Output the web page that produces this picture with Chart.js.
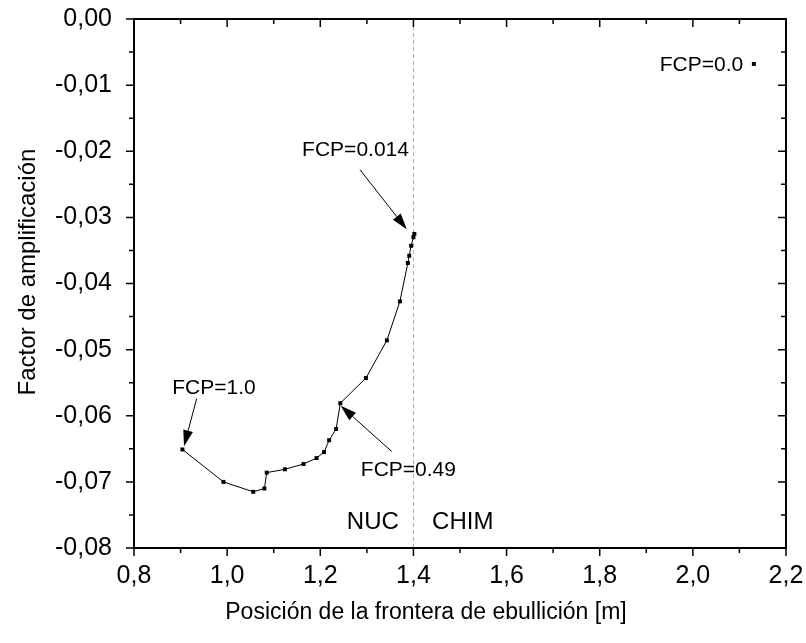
<!DOCTYPE html>
<html>
<head>
<meta charset="utf-8">
<script src="https://cdn.jsdelivr.net/npm/chart.js@4/dist/chart.umd.min.js"></script>
<style>
  html, body { margin: 0; padding: 0; background: #fff; }
  #wrap { width: 806px; height: 643px; }
</style>
</head>
<body>
<div id="wrap"><canvas id="c" width="806" height="643"></canvas></div>
<script>
// ---- Data ----
const boilX = [0.904, 0.992, 1.056, 1.080, 1.085, 1.124, 1.164, 1.192, 1.208, 1.219, 1.234, 1.243, 1.298, 1.343, 1.371, 1.388, 1.391, 1.395, 1.400, 1.402];
const ampY  = [-0.0651, -0.0700, -0.0715, -0.0710, -0.0686, -0.0681, -0.0673, -0.0664, -0.0655, -0.0637, -0.0620, -0.0581, -0.0543, -0.0486, -0.0427, -0.0369, -0.0358, -0.0343, -0.0330, -0.0325];
const fcp0X = [2.131];
const fcp0Y = [-0.0068];
const boundaryX = 1.4;

const noteTexts  = ["FCP=0.0", "FCP=0.014", "FCP=1.0", "FCP=0.49", "NUC", "CHIM"];
const noteX      = [2.108, 1.161, 0.882, 1.287, 1.257, 1.440];
const noteY      = [-0.0070, -0.0198, -0.0558, -0.0682, -0.0762, -0.0762];
const noteAlign  = ["right", "left", "left", "left", "left", "left"];

const arrowTailX = [1.2853, 1.3534, 0.9346];
const arrowTailY = [-0.0228, -0.0654, -0.0574];
const arrowHeadX = [1.3856, 1.2438, 0.9074];
const arrowHeadY = [-0.0318, -0.0585, -0.0646];

const xTitle = "Posición de la frontera de ebullición [m]";
const yTitle = "Factor de amplificación";

const FONT = "'Liberation Sans', Arial, sans-serif";

const overlay = {
  id: 'overlay',
  beforeDatasetsDraw(chart) {
    const ctx = chart.ctx, xs = chart.scales.x, ys = chart.scales.y, a = chart.chartArea;
    ctx.save();
    ctx.strokeStyle = '#b0b0b0';
    ctx.lineWidth = 1;
    ctx.setLineDash([4, 3]);
    const bx = Math.round(xs.getPixelForValue(boundaryX)) + 0.5;
    ctx.beginPath(); ctx.moveTo(bx, a.top); ctx.lineTo(bx, a.bottom); ctx.stroke();
    ctx.restore();
  },
  afterDraw(chart) {
    const ctx = chart.ctx, xs = chart.scales.x, ys = chart.scales.y, a = chart.chartArea;
    ctx.save();
    ctx.strokeStyle = '#000';
    ctx.lineWidth = 2;
    ctx.strokeRect(a.left, a.top, a.right - a.left, a.bottom - a.top);
    ctx.lineWidth = 1.5;
    ctx.beginPath();
    for (let k = 0; k <= 14; k++) {
      const v = 0.8 + k * 0.1;
      const major = k % 2 === 0;
      const px = xs.getPixelForValue(v);
      const len = major ? 8 : 5;
      ctx.moveTo(px, a.bottom); ctx.lineTo(px, a.bottom + len);
      ctx.moveTo(px, a.top); ctx.lineTo(px, a.top + len);
    }
    for (let k = 0; k <= 16; k++) {
      const v = -k * 0.005;
      const major = k % 2 === 0;
      const py = ys.getPixelForValue(v);
      const len = major ? 8 : 5;
      ctx.moveTo(a.left, py); ctx.lineTo(a.left - len, py);
      ctx.moveTo(a.right, py); ctx.lineTo(a.right - len, py);
    }
    ctx.stroke();

    ctx.fillStyle = '#000';
    ctx.textBaseline = 'middle';
    for (let i = 0; i < noteTexts.length; i++) {
      const big = (noteTexts[i] === 'NUC' || noteTexts[i] === 'CHIM');
      ctx.font = (big ? 24 : 21) + 'px ' + FONT;
      ctx.textAlign = noteAlign[i];
      ctx.fillText(noteTexts[i], xs.getPixelForValue(noteX[i]), ys.getPixelForValue(noteY[i]));
    }
    ctx.lineWidth = 1;
    for (let i = 0; i < arrowTailX.length; i++) {
      const x1 = xs.getPixelForValue(arrowTailX[i]), y1 = ys.getPixelForValue(arrowTailY[i]);
      const x2 = xs.getPixelForValue(arrowHeadX[i]), y2 = ys.getPixelForValue(arrowHeadY[i]);
      const ang = Math.atan2(y2 - y1, x2 - x1);
      const hl = 16, hw = 5;
      const bxp = x2 - hl * Math.cos(ang), byp = y2 - hl * Math.sin(ang);
      ctx.beginPath(); ctx.moveTo(x1, y1); ctx.lineTo(bxp, byp); ctx.stroke();
      ctx.beginPath();
      ctx.moveTo(x2, y2);
      ctx.lineTo(bxp + hw * Math.sin(ang), byp - hw * Math.cos(ang));
      ctx.lineTo(bxp - hw * Math.sin(ang), byp + hw * Math.cos(ang));
      ctx.closePath(); ctx.fill();
    }
    ctx.textAlign = 'center';
    ctx.textBaseline = 'middle';
    ctx.font = '23px ' + FONT;
    ctx.fillText(xTitle, 426, 613);
    ctx.font = '24px ' + FONT;
    ctx.translate(28, 272);
    ctx.rotate(-Math.PI / 2);
    ctx.fillText(yTitle, 0, 0);
    ctx.restore();
  }
};

new Chart(document.getElementById('c'), {
  type: 'scatter',
  data: {
    datasets: [
      {
        data: boilX.map((x, i) => ({ x: x, y: ampY[i] })),
        showLine: true,
        borderColor: '#000',
        backgroundColor: '#000',
        borderWidth: 1,
        pointStyle: 'rect',
        pointRadius: 2.8,
        pointBorderWidth: 0,
        tension: 0
      },
      {
        data: fcp0X.map((x, i) => ({ x: x, y: fcp0Y[i] })),
        showLine: false,
        backgroundColor: '#000',
        borderColor: '#000',
        pointStyle: 'rect',
        pointRadius: 2.8,
        pointBorderWidth: 0
      }
    ]
  },
  options: {
    responsive: false,
    animation: false,
    devicePixelRatio: 1,
    layout: { padding: { top: 19, right: 20, bottom: 0, left: 0 } },
    plugins: { legend: { display: false }, tooltip: { enabled: false } },
    scales: {
      x: {
        type: 'linear', min: 0.8, max: 2.2,
        grid: { display: false },
        border: { display: false },
        ticks: {
          stepSize: 0.2, padding: 5, color: '#000', maxRotation: 0,
          font: { family: FONT, size: 25 },
          callback: v => v.toFixed(1).replace('.', ',')
        },
        afterFit(s) { s.height = 95; s.paddingLeft = 0; s.paddingRight = 0; }
      },
      y: {
        type: 'linear', min: -0.08, max: 0,
        grid: { display: false },
        border: { display: false },
        ticks: {
          stepSize: 0.01, padding: 14, color: '#000',
          font: { family: FONT, size: 25 },
          callback: v => (Math.abs(v) < 1e-9 ? 0 : v).toFixed(2).replace('.', ',')
        },
        afterFit(s) { s.width = 134; s.paddingTop = 0; s.paddingBottom = 0; }
      }
    }
  },
  plugins: [overlay]
});
</script>
</body>
</html>
